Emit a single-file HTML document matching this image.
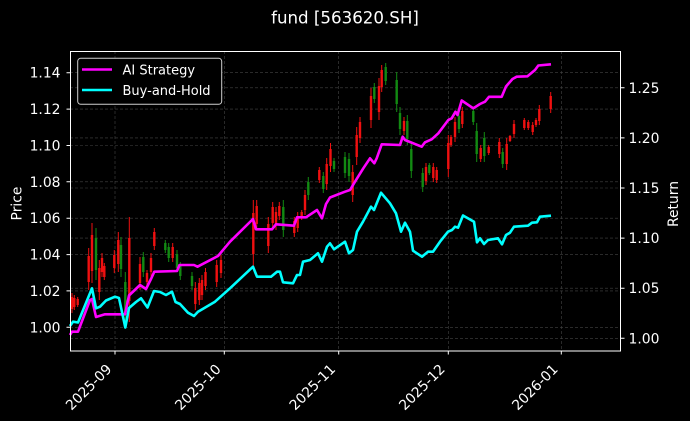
<!DOCTYPE html>
<html><head><meta charset="utf-8"><style>
html,body{margin:0;padding:0;background:#000;}
svg{display:block;font-family:"DejaVu Sans","Liberation Sans",sans-serif;}
</style></head><body>
<svg width="690" height="421" viewBox="0 0 690 421" xmlns="http://www.w3.org/2000/svg">
<rect width="690" height="421" fill="#000"/>
<text x="345" y="23.5" fill="#fff" font-size="16.67" text-anchor="middle">fund [563620.SH]</text>

<!-- grid -->
<g stroke="#444" stroke-width="0.6" stroke-dasharray="3,2" fill="none">
<path d="M70 327.3H620.7M70 290.9H620.7M70 254.6H620.7M70 218.2H620.7M70 181.8H620.7M70 145.5H620.7M70 109.1H620.7M70 72.7H620.7"/>
<path d="M70 338.3H620.7M70 288.2H620.7M70 238.1H620.7M70 188H620.7M70 137.9H620.7M70 87.8H620.7"/>
<path d="M115 51V351M224.3 51V351M338.7 51V351M448.3 51V351M561.3 51V351"/>
</g>

<!-- candles red -->
<g stroke="#f01010" fill="none">
<path stroke-width="1" d="M72 293V313M74.3 295V310M77.7 297V307M88.7 248V290M92 223V283M99.3 260V300M102 253V277M104.3 263V280M114.3 250V273M118.3 232V272M129.3 217V322M140 257V290M147 270V285M151 253V277M154.3 228V250M172.7 243V262M195.3 282V310M199.3 278V305M202 275V300M205.5 268V290M216.7 260V287M221 255V278M253.3 200V267M256.7 200V230M268.3 217V253M272.7 202V228M276 207V230M279.3 202V220M294.3 217V237M297.7 212V232M301.7 210V220M305 190V215M319.3 167V183M326.7 158V190M330.5 143V172M352.7 165V202M356.7 127V165M360 117V143M371 88V128M379 78V120M381.7 65V92M404 117V135M426 163V185M433.3 163V182M436.7 167V183M448.3 135V177M451 135V147M455 117V142M462.3 107V128M480.7 145V162M488.7 145V155M499.3 138V158M506.7 138V170M510 135V142M514 120V138M524.3 118V130M528.3 120V130M532.7 122V135M536 118V127M539.3 105V125M550.7 92V113"/>
<path stroke-width="2.4" d="M72 297V309M74.3 298V307M77.7 299V305M88.7 256V282M92 235V271M99.3 268V292M102 258V272M104.3 266V277M114.3 255V268M118.3 240V264M129.3 238V301M140 264V283M147 273V282M151 258V272M154.3 232V246M172.7 247V258M195.3 288V304M199.3 283V300M202 280V295M205.5 272V286M216.7 265V282M221 260V273M253.3 213V254M256.7 206V224M268.3 224V246M272.7 207V223M276 212V225M279.3 206V216M294.3 221V233M297.7 216V228M301.7 212V218M305 195V210M319.3 170V180M326.7 164V184M330.5 149V166M352.7 172V195M356.7 135V157M360 122V138M371 96V120M379 86V112M381.7 70V87M404 121V131M426 167V181M433.3 167V178M436.7 170V180M448.3 143V169M451 137V145M455 122V137M462.3 111V124M480.7 148V159M488.7 147V153M499.3 142V154M506.7 144V164M510 136V141M514 124V134M524.3 120V128M528.3 122V128M532.7 125V132M536 120V125M539.3 109V121M550.7 96V109"/>
</g>
<!-- candles green -->
<g stroke="#128a12" fill="none">
<path stroke-width="1" d="M96 228V280M121 237V277M125.3 272V322M143.3 252V277M165.3 240V253M168.7 243V262M177 250V272M180.3 262V280M192 272V290M283.3 200V237M308.3 177V200M323.3 172V193M334 158V172M345 152V178M349 153V182M374.3 83V103M385.7 63V85M396.7 72V112M400 107V135M407.3 115V145M411.3 142V178M422.7 168V192M429.3 163V175M459 112V133M473.3 108V125M476.7 123V162M484.3 132V162M502.7 148V168"/>
<path stroke-width="2.4" d="M96 238V270M121 245V269M125.3 282V312M143.3 257V272M165.3 243V250M168.7 247V258M177 254V268M180.3 266V276M192 276V286M283.3 207V230M308.3 182V195M323.3 176V189M334 161V169M345 157V173M349 159V176M374.3 87V99M385.7 67V81M396.7 80V104M400 113V129M407.3 121V139M411.3 149V171M422.7 173V187M429.3 165V173M459 116V129M473.3 111V122M476.7 131V154M484.3 138V156M502.7 152V164"/>
</g>

<!-- lines -->
<polyline fill="none" stroke="#ff00ff" stroke-width="2.6" stroke-linejoin="round" points="70,335 72,331.7 78,331.7 90,300 92,299 96,317 105,314.3 125,314.3 129,295.5 140,285 146,289 151,279 154.3,271.7 177,271 179.5,265 194,265 197.5,266.7 218,256 230,241.7 253,219 256,229.3 272,229.3 276,224.3 294,225.7 297,217.3 306,217.3 317,210 322,218.3 326,204 330,197.5 345,191.7 350,190 355,181.7 363.3,168.3 370,158.3 374.3,163.3 376.7,158.3 381.7,144.3 400,145 402.7,136.7 405,140 421.7,146.7 425,142.3 431.7,139.3 438.3,133.3 448.3,120 451.7,118.3 455.5,111.7 457.5,115 461.7,100.5 473.3,108.3 480,104 485,101.7 489,96.8 501.7,96.8 506,86.5 512.5,79 516.7,76.7 527.5,76.3 531.7,72.8 535,70 538.3,65.5 551,64.3"/>
<polyline fill="none" stroke="#00ffff" stroke-width="2.6" stroke-linejoin="round" points="70,326 73,321.7 78,322.5 92,288.3 96,308.3 100,306.7 106,300.5 115,296.7 119,298 125.3,327.5 129,308 136,302 141,298.3 147.5,307.5 154,291 160,292 166,295 172,291.7 175.5,302 180,304 188,312.7 194,316 198,311.7 215,301.7 230,288.3 253,266.7 257,276.7 271,276.7 277,271.7 280,271.7 283,282.3 293,283.3 297,275 300,275 303,261.7 310,260 318,253.3 322,261.7 327,246.7 330,243.3 334,249.3 345,241.7 349,253.3 353,250 357,231.7 363,221.7 371,206.7 374,210 381,192.7 390,203.3 396,213.3 401,231.7 405,222.7 410,231.7 413,250.7 422,256.7 428,251.7 433,251.7 440,241.7 448,231.7 452,230 455,226.7 458,227.7 463,215.5 474,221.7 477,242.3 480,238.3 484,244 488,240 498,238.3 502,244.3 506,235 510,232.7 514,226.7 528,225.7 532,222.7 537,222.3 540,216.7 551,215.7"/>

<!-- spines -->
<rect x="70.5" y="51.5" width="550" height="299.5" fill="none" stroke="#fff" stroke-width="1"/>

<!-- ticks -->
<g stroke="#fff" stroke-width="1">
<path d="M66.5 327.3H70M66.5 290.9H70M66.5 254.6H70M66.5 218.2H70M66.5 181.8H70M66.5 145.5H70M66.5 109.1H70M66.5 72.7H70"/>
<path d="M621 338.3H624.5M621 288.2H624.5M621 238.1H624.5M621 188H624.5M621 137.9H624.5M621 87.8H624.5"/>
<path d="M115 351V354.5M224.3 351V354.5M338.7 351V354.5M448.3 351V354.5M561.3 351V354.5"/>
</g>

<g fill="#fff" font-size="13.9">
<g text-anchor="end">
<text x="60.5" y="332.3">1.00</text>
<text x="60.5" y="295.9">1.02</text>
<text x="60.5" y="259.6">1.04</text>
<text x="60.5" y="223.2">1.06</text>
<text x="60.5" y="186.8">1.08</text>
<text x="60.5" y="150.5">1.10</text>
<text x="60.5" y="114.1">1.12</text>
<text x="60.5" y="77.7">1.14</text>
</g>
<g text-anchor="start">
<text x="628.5" y="343.3">1.00</text>
<text x="628.5" y="293.2">1.05</text>
<text x="628.5" y="243.1">1.10</text>
<text x="628.5" y="193">1.15</text>
<text x="628.5" y="142.9">1.20</text>
<text x="628.5" y="92.8">1.25</text>
</g>
<g text-anchor="end">
<text transform="translate(112.5,370) rotate(-45)">2025-09</text>
<text transform="translate(221.8,370) rotate(-45)">2025-10</text>
<text transform="translate(336.2,370) rotate(-45)">2025-11</text>
<text transform="translate(445.8,370) rotate(-45)">2025-12</text>
<text transform="translate(558.8,370) rotate(-45)">2026-01</text>
</g>
<text transform="translate(21.5,203.5) rotate(-90)" text-anchor="middle">Price</text>
<text transform="translate(678,204) rotate(-90)" text-anchor="middle">Return</text>
</g>

<!-- legend -->
<rect x="77.7" y="58.3" width="144" height="46" rx="3" ry="3" fill="#000" stroke="#cfcfcf" stroke-width="1"/>
<line x1="82" y1="69.5" x2="112" y2="69.5" stroke="#ff00ff" stroke-width="2.6"/>
<line x1="82" y1="90" x2="112" y2="90" stroke="#00ffff" stroke-width="2.6"/>
<text x="122.5" y="74.3" fill="#fff" font-size="13">AI Strategy</text>
<text x="122.5" y="94.8" fill="#fff" font-size="13">Buy-and-Hold</text>
</svg>
</body></html>
